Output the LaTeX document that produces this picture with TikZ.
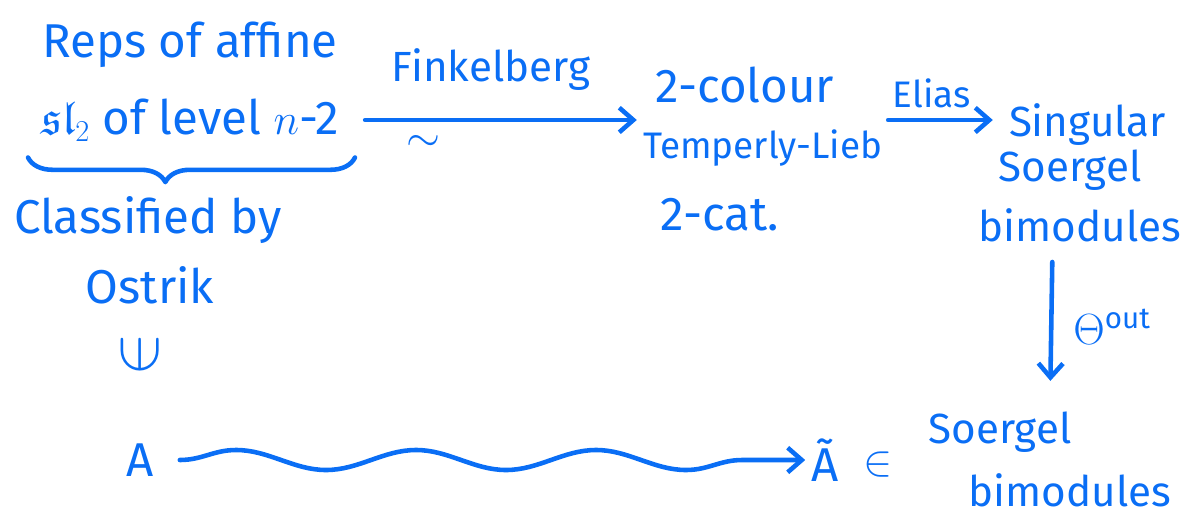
\documentclass[tikz,border=0pt]{standalone}
\usepackage{fontspec}
\setmainfont{Fira Sans}
\usepackage{amsfonts}
\usepackage{graphicx}
\usetikzlibrary{arrows.meta,decorations.pathreplacing,decorations.pathmorphing}
\definecolor{ink}{RGB}{10,110,245}

\begin{document}
\begin{tikzpicture}[
    ink/.style={text=ink, font=\fontsize{27}{32}\selectfont},
    inkmid/.style={ink, font=\fontsize{24}{28}\selectfont},
    inksmall/.style={ink, font=\fontsize{21}{25}\selectfont},
    inkline/.style={draw=ink, line width=2.6pt, line cap=round, line join=round},
    inkarrow/.style={inkline, -{Straight Barb[length=8pt, width=14pt, line width=2.6pt]}}
]
\useasboundingbox (0,0) rectangle (23.7,-10.36);

% === Left column: reps of affine sl_2 ===
\node[ink] (reps) at (3.8,-0.9) {Reps of affine};
\node[ink] (sl) at (3.8,-2.4) {$\mathfrak{sl}_2$ of level $n$-2};
\coordinate (brl) at (0.56,-3.15);
\coordinate (brr) at (7.1,-3.15);
\draw[inkline, decorate, decoration={brace, mirror, amplitude=14pt, aspect=0.42}] (brl) -- (brr);
\node[ink] (classified) at (2.96,-4.4) {Classified by};
\node[ink] (ostrik) at (3.0,-5.7) {Ostrik};
\node[ink] (elem) at (2.8,-7.1) {\scalebox{1.5}{\rotatebox{90}{$\in$}}};
\node[ink] (A) at (2.8,-9.2) {A};

% === Middle column: 2-colour Temperley-Lieb ===
\node[ink] (colour) at (14.9,-1.7) {2-colour};
\node[inksmall] (tl) at (15.25,-2.96) {Temperly-Lieb};
\node[ink] (cat) at (14.4,-4.3) {2-cat.};

% === Right column: singular Soergel bimodules ===
\node[inkmid] (singular) at (21.75,-2.5) {Singular};
\node[inkmid] (soergelA) at (21.4,-3.4) {Soergel};
\node[inkmid] (bimodA) at (21.6,-4.5) {bimodules};

% === Bottom right: Soergel bimodules ===
\node[ink] (At) at (16.5,-9.2) {\~A};
\node[ink] (in) at (17.56,-9.3) {$\in$};
\node[inkmid] (soergelB) at (20.0,-8.64) {Soergel};
\node[inkmid] (bimodB) at (21.4,-9.8) {bimodules};

% arrows
\draw[inkarrow, shorten <=0.4cm] (sl.east) -- node[inkmid, above=12pt] {Finkelberg} node[ink, below=4pt, pos=0.27] {$\sim$} (sl.east -| tl.west);
\draw[inkarrow, shorten >=0.2cm] (tl.east |- sl.east) -- node[inksmall, above=2pt, pos=0.38] {Elias} (singular.west |- sl.east);
\draw[inkarrow, shorten <=8pt, shorten >=14pt] ([xshift=-0.55cm]bimodA.south) -- node[inkmid, right=8pt] {$\Theta^{\mathrm{out}}$} ([xshift=1.0cm]soergelB.north);
\draw[inkarrow, decorate, decoration={snake, amplitude=0.2cm, segment length=3.6cm, post length=0.5cm}] ([xshift=0.4cm]A.east) -- (At.west);

\end{tikzpicture}
\end{document}
